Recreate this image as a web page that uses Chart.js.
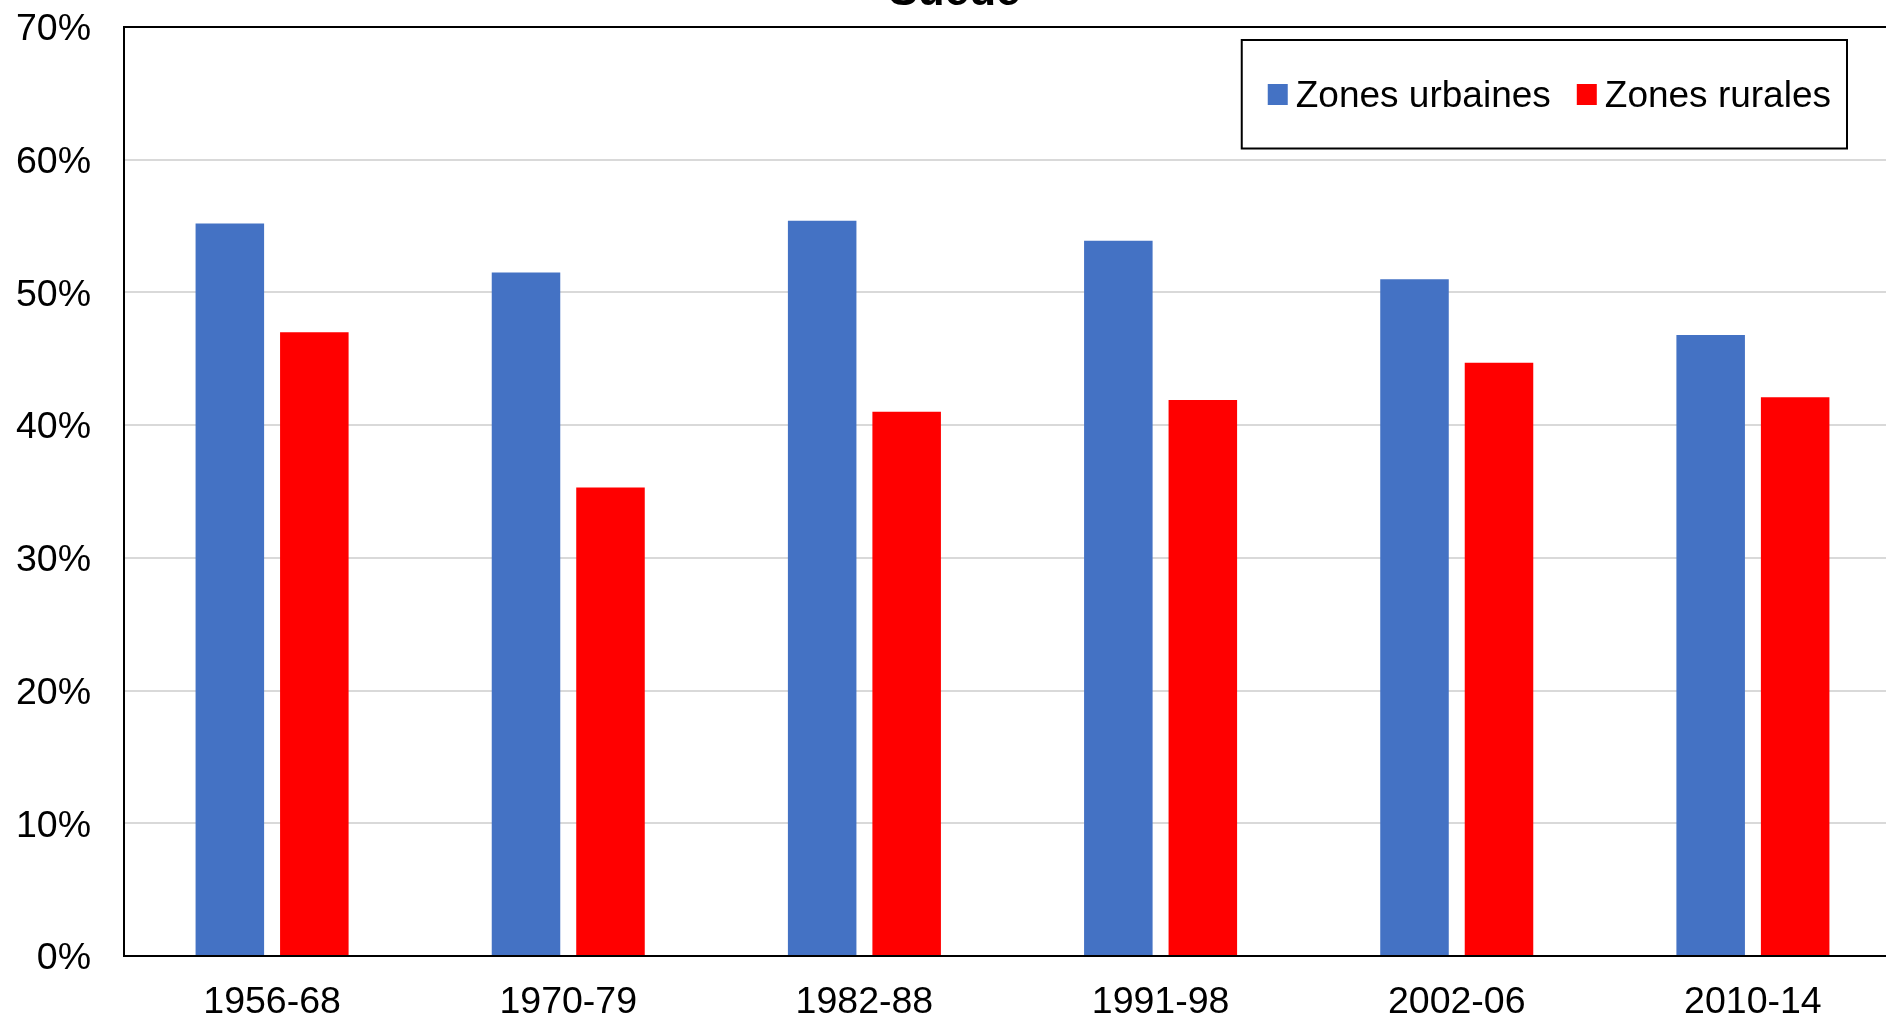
<!DOCTYPE html>
<html>
<head>
<meta charset="utf-8">
<script src="https://cdn.jsdelivr.net/npm/chart.js@4.4.1/dist/chart.umd.min.js"></script>
<style>
  html, body { margin: 0; padding: 0; background: #fff; overflow: hidden; width: 1886px; height: 1017px; }
  #wrap { position: absolute; left: 0; top: -40px; width: 1920px; height: 1057px; }
</style>
</head>
<body>
<div id="wrap"><canvas id="c" width="1920" height="1057"></canvas></div>
<script>
const title = 'Suède';
const categories = ['1956-68', '1970-79', '1982-88', '1991-98', '2002-06', '2010-14'];
const seriesNames = ['Zones urbaines', 'Zones rurales'];
const urban = [55.2, 51.5, 55.4, 53.9, 51.0, 46.8];
const rural = [47.0, 35.3, 41.0, 41.9, 44.7, 42.1];
const yTicks = [0, 10, 20, 30, 40, 50, 60, 70];

const FONT = '"Liberation Sans", Arial, Helvetica, sans-serif';
Chart.defaults.color = '#000';
Chart.defaults.font.family = FONT;

const boxLegend = {
  id: 'boxLegend',
  afterDraw(chart) {
    const ctx = chart.ctx;
    const ca = chart.chartArea;
    ctx.save();
    ctx.font = '37px ' + FONT;
    const items = chart.data.datasets.map(d => ({ label: d.label, color: d.backgroundColor, w: ctx.measureText(d.label).width }));
    const padL = 26, mark = 20, gapMT = 8, gapItem = 26, padR = 16;
    let width = padL + padR;
    items.forEach((it, i) => { width += mark + gapMT + it.w + (i < items.length - 1 ? gapItem : 0); });
    const right = ca.right - 54;
    const left = right - width;
    const top = ca.top + 13;
    const height = 108.5;
    ctx.fillStyle = '#fff';
    ctx.fillRect(left, top, width, height);
    ctx.lineWidth = 2;
    ctx.strokeStyle = '#000';
    ctx.strokeRect(left, top, width, height);
    let x = left + padL;
    ctx.textBaseline = 'alphabetic';
    ctx.textAlign = 'left';
    items.forEach(it => {
      ctx.fillStyle = it.color;
      ctx.fillRect(x, top + 44, mark, 21);
      x += mark + gapMT;
      ctx.fillStyle = '#000';
      ctx.fillText(it.label, x, top + 67);
      x += it.w + gapItem;
    });
    ctx.restore();
  }
};

new Chart(document.getElementById('c'), {
  type: 'bar',
  data: {
    labels: categories,
    datasets: [
      { label: seriesNames[0], data: urban, backgroundColor: '#4472C4', borderWidth: 0 },
      { label: seriesNames[1], data: rural, backgroundColor: '#FF0000', borderWidth: 0 }
    ]
  },
  options: {
    responsive: false,
    animation: false,
    devicePixelRatio: 1,
    layout: { padding: { left: 8, right: 19, top: 0, bottom: 0 } },
    datasets: { bar: { categoryPercentage: 0.5706, barPercentage: 0.811 } },
    plugins: {
      legend: { display: false },
      tooltip: { enabled: false },
      title: {
        display: true,
        text: title,
        color: '#000',
        font: { size: 44, weight: 'bold', family: FONT },
        padding: { top: 6, bottom: 8.2 }
      }
    },
    scales: {
      x: {
        grid: { display: false, drawTicks: false },
        border: { display: true, color: '#000', width: 2 },
        ticks: { font: { size: 37.5, family: FONT }, color: '#000', padding: 24, maxRotation: 0 },
        afterFit(scale) { scale.height = 61; }
      },
      y: {
        min: 0,
        max: 70,
        afterBuildTicks(scale) { scale.ticks = yTicks.map(v => ({ value: v })); },
        grid: {
          drawTicks: false,
          lineWidth: 2,
          color: ctx => (ctx.tick && ctx.tick.value === 70 ? '#000' : '#d9d9d9')
        },
        border: { display: true, color: '#000', width: 2 },
        ticks: {
          font: { size: 37.5, family: FONT },
          color: '#000',
          padding: 33,
          labelOffset: 3,
          callback: v => v + '%'
        },
        afterFit(scale) { scale.width = 116; }
      }
    }
  },
  plugins: [boxLegend]
});
</script>
</body>
</html>
